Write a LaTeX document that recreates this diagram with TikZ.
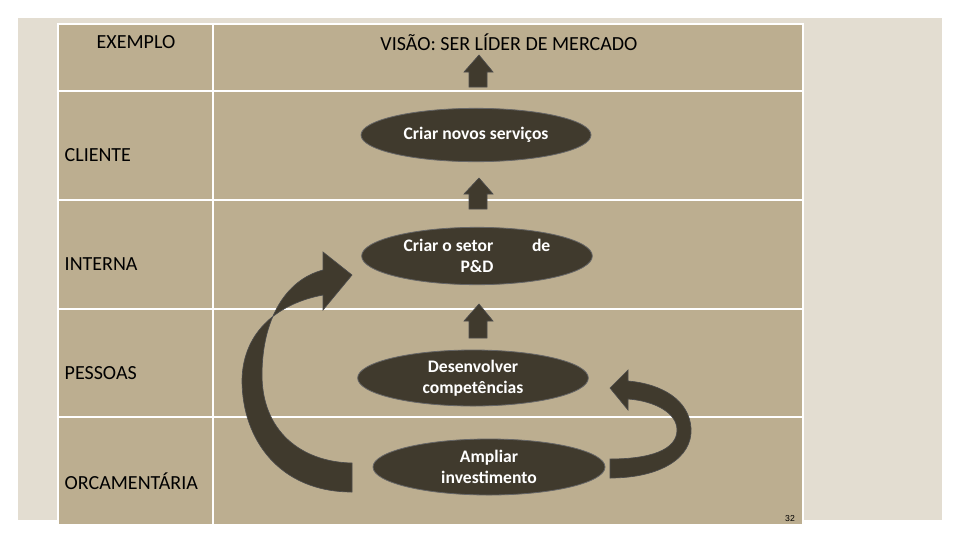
\documentclass[tikz,border=0pt]{standalone}
\usepackage{fontspec}
\setmainfont{Carlito}
\newfontfamily\arialf{Liberation Sans}
\begin{document}
\begin{tikzpicture}[x=0.75pt,y=-0.75pt,
  el/.style={ellipse,draw=black!60,line width=0.6pt,fill=ell,text=white,font=\fontsize{13.2}{15.5}\selectfont\bfseries,align=center,inner sep=0pt},
  hd/.style={font=\fontsize{15}{18}\selectfont,text=black},
  rl/.style={font=\fontsize{15}{18}\selectfont,text=black,anchor=west},
  blk/.style={fill=ell,draw=black!70,line width=0.5pt}]
\definecolor{bg}{HTML}{E3DDD1}
\definecolor{tab}{HTML}{BCAE90}
\definecolor{ell}{HTML}{403A2D}
\usetikzlibrary{shapes.geometric}
\useasboundingbox (0,0) rectangle (960,540);
\fill[white] (0,0) rectangle (960,540);
\fill[bg] (18,18) rectangle (942,520);
\fill[tab] (58,24) rectangle (803,525);
\draw[white,line width=1.5pt] (58,24) rectangle (803,525);
\draw[white,line width=1.5pt] (213,24) -- (213,525);
\foreach \yy in {91,200,309,417} \draw[white,line width=1.5pt] (58,\yy) -- (803,\yy);
\node[hd] (h1) at (136,42) {EXEMPLO};
\node[hd] (h2) at (509,42) {VISÃO: SER LÍDER DE MERCADO};
\node[rl] (r1) at (60,155) {CLIENTE};
\node[rl] (r2) at (60,264) {INTERNA};
\node[rl] (r3) at (60,373) {PESSOAS};
\node[rl] (r4) at (60,481) {ORCAMENTÁRIA};
\node[el,minimum width=172.5pt,minimum height=40pt] (e1) at (476,135) {Criar novos serviços};
\node[el,minimum width=173pt,minimum height=43pt] (e2) at (477,256) {Criar o setor\hspace{2.2em}de\\P\&D};
\node[el,minimum width=173pt,minimum height=42pt] (e3) at (473,378) {Desenvolver\\competências};
\node[el,minimum width=174pt,minimum height=42pt] (e4) at (489,467) {Ampliar\\investimento};
\node[font=\arialf\fontsize{6.5}{8}\selectfont] (pg) at (790,519) {32};
\foreach \ty/\hb/\by in {55/72/87, 178/194/209, 304/321/338}{
  \draw[blk] (479,\ty) -- (493,\hb) -- (487,\hb) -- (487,\by) -- (469,\by) -- (469,\hb) -- (464,\hb) -- cycle;
}
\draw[blk] (352,492) .. controls (280,492) and (242,440) .. (242,380) .. controls (243,330) and (280,303) .. (323,295) -- (323,310) -- (352,275) -- (323,252) -- (323,270) .. controls (285,280) and (262,320) .. (262,375) .. controls (262,430) and (300,462) .. (352,463) -- cycle;
\draw[blk] (610,478) .. controls (660,478) and (693,458) .. (691,428) .. controls (689,400) and (662,384) .. (628,381) -- (628,370) -- (610,388) -- (628,410) -- (628,399) .. controls (655,401) and (677,413) .. (677,430) .. controls (677,450) and (650,459) .. (610,459) -- cycle;
\end{tikzpicture}
\end{document}
